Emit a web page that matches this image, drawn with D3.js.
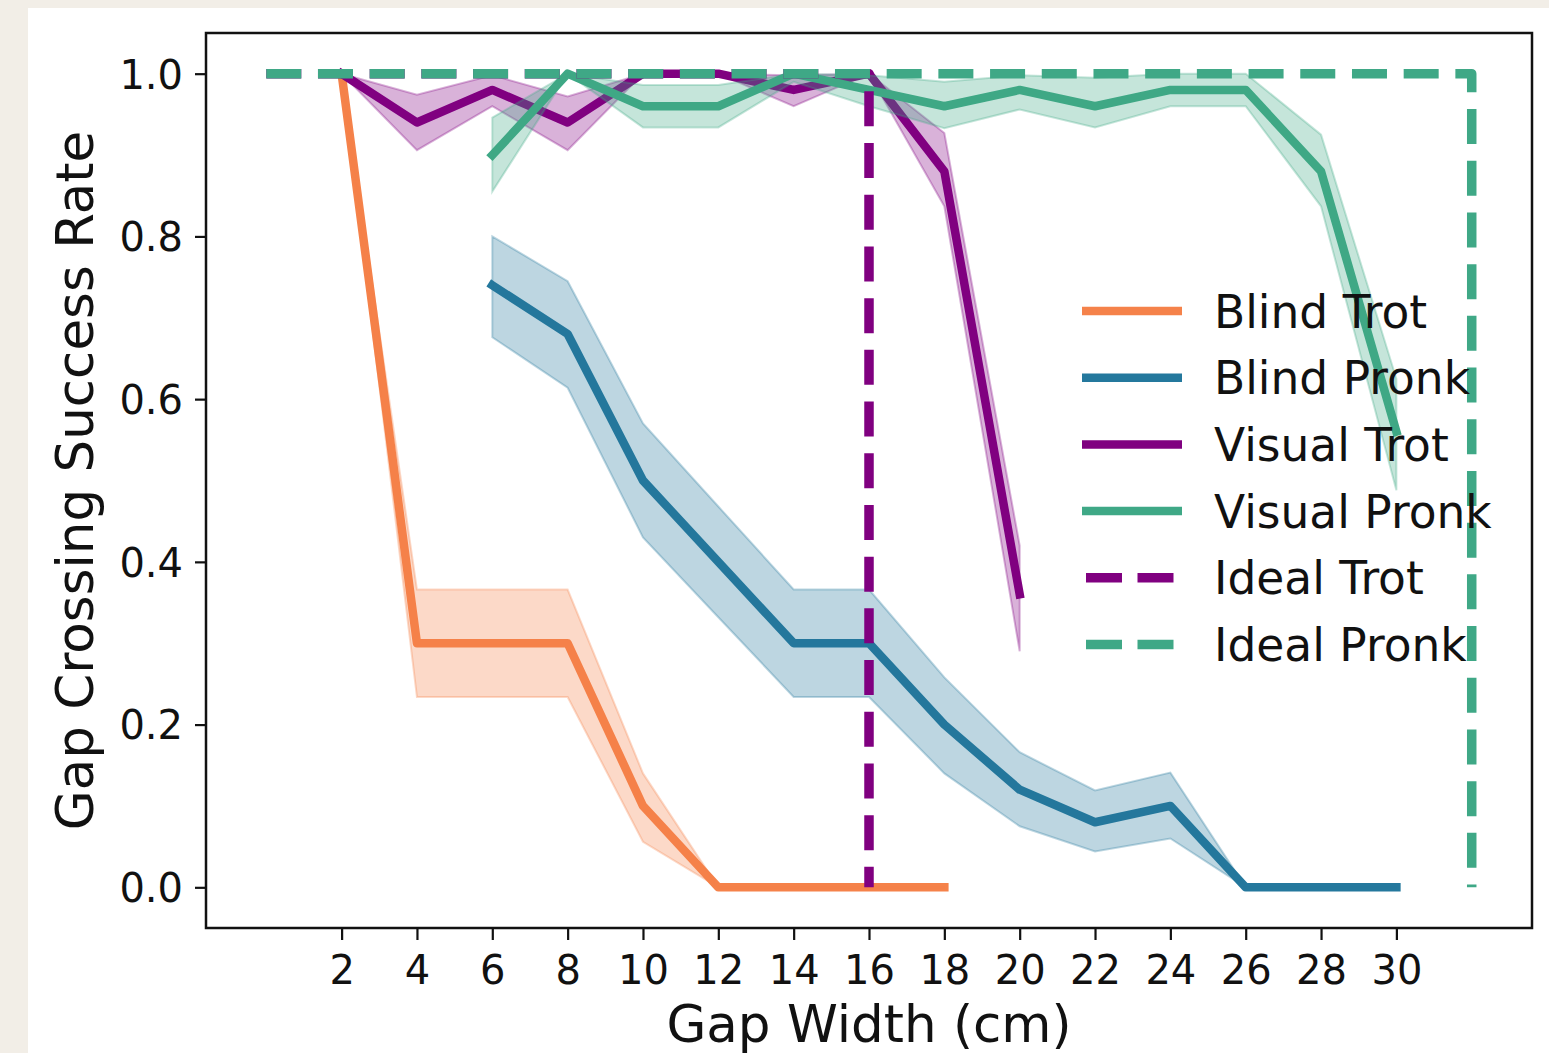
<!DOCTYPE html>
<html><head><meta charset="utf-8">
<script src="https://cdn.jsdelivr.net/npm/d3@7"></script>
<style>body{margin:0;background:#f2eee7;} svg{display:block;}</style>
</head><body>
<svg id="c" width="1549" height="1053"></svg>
<script>
const gaps = [2,4,6,8,10,12,14,16,18,20,22,24,26,28,30];
const xTicks = [2,4,6,8,10,12,14,16,18,20,22,24,26,28,30];
const yTicks = [0,0.2,0.4,0.6,0.8,1.0];

const blindTrotX = [2,4,6,8,10,12,14,16,18];
const blindTrot = [1.0,0.30,0.30,0.30,0.10,0.0,0.0,0.0,0.0];
const blindTrotLo = [1.0,0.234,0.234,0.234,0.056,0.0,0.0,0.0,0.0];
const blindTrotHi = [1.0,0.366,0.366,0.366,0.14,0.0,0.0,0.0,0.0];

const blindPronkX = [6,8,10,12,14,16,18,20,22,24,26,28,30];
const blindPronk = [0.74,0.68,0.50,0.40,0.30,0.30,0.20,0.12,0.08,0.10,0.0,0.0,0.0];
const blindPronkLo = [0.676,0.614,0.43,0.332,0.234,0.234,0.14,0.075,0.044,0.06,0.0,0.0,0.0];
const blindPronkHi = [0.80,0.745,0.57,0.468,0.366,0.366,0.258,0.166,0.119,0.141,0.0,0.0,0.0];

const visualTrotX = [2,4,6,8,10,12,14,16,18,20];
const visualTrot = [1.0,0.94,0.98,0.94,1.0,1.0,0.98,1.0,0.88,0.36];
const visualTrotLo = [1.0,0.906,0.96,0.906,1.0,1.0,0.96,1.0,0.837,0.29];
const visualTrotHi = [1.0,0.974,0.998,0.972,1.0,1.0,0.998,1.0,0.927,0.42];

const visualPronkX = [6,8,10,12,14,16,18,20,22,24,26,28,30];
const visualPronk = [0.90,1.0,0.96,0.96,1.0,0.98,0.96,0.98,0.96,0.98,0.98,0.88,0.56];
const visualPronkLo = [0.855,1.0,0.934,0.934,0.99,0.96,0.933,0.956,0.934,0.96,0.96,0.837,0.488];
const visualPronkHi = [0.946,1.0,0.986,0.986,1.0,0.998,0.99,0.998,0.995,1.0,1.0,0.925,0.625];

const idealTrotX = [0,16,16];
const idealTrotY = [1,1,0];
const idealPronkX = [0,32,32];
const idealPronkY = [1,1,0];

const names = ["Blind Trot","Blind Pronk","Visual Trot","Visual Pronk","Ideal Trot","Ideal Pronk"];
const colors = ["#f5824a","#24789d","#800080","#3fa886","#800080","#3fa886"];

const svg = d3.select("#c");
const font = "DejaVu Sans, sans-serif";
svg.append("rect").attr("x",28).attr("y",8).attr("width",1549-28).attr("height",1053-8).attr("fill","#ffffff");

const L=206, R=1532, T=33, B=928;
const x = d3.scaleLinear().domain([-1.6,33.6]).range([L,R]);
const y = d3.scaleLinear().domain([-0.05,1.05]).range([B,T]);

const g = svg.append("g");
const line = d3.line().x(d=>x(d[0])).y(d=>y(d[1]));
const area = d3.area().x(d=>x(d[0])).y0(d=>y(d[1])).y1(d=>y(d[2]));

function series(xs, m, lo, hi, col){
  g.append("path").datum(xs.map((v,i)=>[v,m[i]])).attr("d",line)
    .attr("fill","none").attr("stroke",col).attr("stroke-width",8.5)
    .attr("stroke-linejoin","round").attr("stroke-linecap","square");
  g.append("path").datum(xs.map((v,i)=>[v,lo[i],hi[i]])).attr("d",area)
    .attr("fill",col).attr("fill-opacity",0.3)
    .attr("stroke",col).attr("stroke-opacity",0.3).attr("stroke-width",2);
}
series(blindTrotX, blindTrot, blindTrotLo, blindTrotHi, colors[0]);
series(blindPronkX, blindPronk, blindPronkLo, blindPronkHi, colors[1]);
series(visualTrotX, visualTrot, visualTrotLo, visualTrotHi, colors[2]);
series(visualPronkX, visualPronk, visualPronkLo, visualPronkHi, colors[3]);

function dashed(xs, ys, col){
  g.append("path").datum(xs.map((v,i)=>[v,ys[i]])).attr("d",line)
    .attr("fill","none").attr("stroke",col).attr("stroke-width",9.5)
    .attr("stroke-dasharray","35 16.7").attr("stroke-linecap","butt").attr("stroke-linejoin","round");
}
dashed(idealTrotX, idealTrotY, colors[4]);
dashed(idealPronkX, idealPronkY, colors[5]);

// frame
svg.append("rect").attr("x",L).attr("y",T).attr("width",R-L).attr("height",B-T)
  .attr("fill","none").attr("stroke","#111").attr("stroke-width",2.5);

// axes
const xAxis = svg.append("g").attr("transform",`translate(0,${B})`)
  .call(d3.axisBottom(x).tickValues(xTicks).tickSize(12).tickPadding(10).tickFormat(d3.format("d")));
const yAxis = svg.append("g").attr("transform",`translate(${L},0)`)
  .call(d3.axisLeft(y).tickValues(yTicks).tickSize(11).tickPadding(12).tickFormat(d3.format(".1f")));
[xAxis,yAxis].forEach(a=>{
  a.select(".domain").remove();
  a.selectAll(".tick line").attr("stroke","#111").attr("stroke-width",2.2);
  a.selectAll(".tick text").attr("fill","#111").style("font-family",font).style("font-size","40px");
});
xAxis.selectAll(".tick text").attr("dy",null).attr("y",56);
yAxis.selectAll(".tick text").attr("dy","0.36em");

svg.append("text").attr("x",(L+R)/2).attr("y",1042).attr("text-anchor","middle")
  .style("font-family",font).style("font-size","51.5px").attr("fill","#111").text("Gap Width (cm)");
svg.append("text").attr("transform",`translate(93,${(T+B)/2}) rotate(-90)`).attr("text-anchor","middle")
  .style("font-family",font).style("font-size","51.5px").attr("fill","#111").text("Gap Crossing Success Rate");

// legend
const lg = svg.append("g");
names.forEach((n,i)=>{
  const yy = 311 + i*66.7;
  const ideal = i>=4;
  lg.append("line").attr("x1", ideal?1086:1082).attr("x2", ideal?1176:1182).attr("y1",yy).attr("y2",yy)
    .attr("stroke",colors[i]).attr("stroke-width", ideal?9.5:8.5)
    .attr("stroke-dasharray", ideal?"36 15.5":null);
  lg.append("text").attr("x",1214).attr("y",yy+16.5).style("font-family",font).style("font-size","45.5px")
    .attr("fill","#111").text(n);
});
</script>
</body></html>
